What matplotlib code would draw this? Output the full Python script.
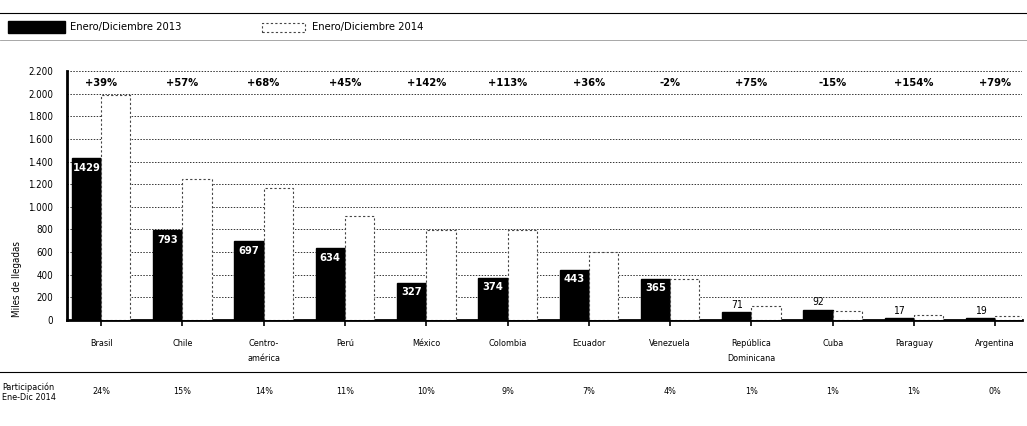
import matplotlib
matplotlib.use("Agg")
import matplotlib.pyplot as plt
from matplotlib.patches import Rectangle
from matplotlib.lines import Line2D

categories = ["Brasil", "Chile", "Centro-\namérica", "Perú", "México", "Colombia",
              "Ecuador", "Venezuela", "República\nDominicana", "Cuba", "Paraguay", "Argentina"]
values_2013 = [1429, 793, 697, 634, 327, 374, 443, 365, 71, 92, 17, 19]
values_2014 = [1986, 1245, 1171, 919, 791, 797, 602, 358, 124, 78, 43, 34]
variation = ["+39%", "+57%", "+68%", "+45%", "+142%", "+113%", "+36%", "-2%",
             "+75%", "-15%", "+154%", "+79%"]
share_2014 = ["24%", "15%", "14%", "11%", "10%", "9%", "7%", "4%", "1%", "1%", "1%", "0%"]
yticks = [0, 200, 400, 600, 800, 1000, 1200, 1400, 1600, 1800, 2000, 2200]
ytick_labels = ["0", "200", "400", "600", "800", "1.000", "1.200", "1.400", "1.600",
                "1.800", "2.000", "2.200"]

plt.rcParams['font.family'] = ['DejaVu Sans']
plt.rcParams['font.stretch'] = 'condensed'

fig = plt.figure(figsize=(10.27, 4.26), dpi=100)
ax = fig.add_axes([0.0652, 0.249, 0.930, 0.584])

x = list(range(len(categories)))
w = 0.36
x13 = [i - w / 2 for i in x]
x14 = [i + w / 2 for i in x]

ax.bar(x13, values_2013, width=w, color="black", edgecolor="black", zorder=3)
ax.bar(x14, values_2014, width=w, color="white", edgecolor="#444444",
       linestyle=(0, (2, 2)), linewidth=0.8, zorder=3)

for xi, v in zip(x13, values_2013):
    if v > 250:
        ax.text(xi, v - 40, str(v), ha="center", va="top", color="white",
                fontsize=8, fontweight="bold", zorder=4)
    else:
        ax.text(xi, v + 20, str(v), ha="center", va="bottom", color="black",
                fontsize=7.5, zorder=4)

for xi, t in zip(x, variation):
    ax.text(xi, 2095, t, ha="center", va="center", fontsize=8, fontweight="bold")

ax.set_xlim(-0.42, 11.33)
ax.set_ylim(0, 2200)
ax.set_yticks(yticks)
ax.set_yticklabels(ytick_labels, fontsize=7)
ax.set_xticks(x)
ax.set_xticklabels(categories, fontsize=6.5, linespacing=1.8)
ax.tick_params(axis="x", length=4, width=1.2, pad=10)
ax.tick_params(axis="y", length=0, pad=10)
ax.grid(axis="y", linestyle=(0, (1.5, 1.5)), color="#333333", linewidth=0.7, zorder=0)
for s in ["top", "right"]:
    ax.spines[s].set_visible(False)
ax.spines["left"].set_linewidth(2)
ax.spines["bottom"].set_linewidth(2)

fig.text(0.017, 0.345, "Miles de llegadas", rotation=90, ha="center", va="center", fontsize=7)

# Legend
fig.patches.append(Rectangle((8 / 1027, 1 - 33 / 426), 57 / 1027, 12 / 426,
                             transform=fig.transFigure, facecolor="black", edgecolor="black"))
fig.text(70 / 1027, 1 - 27 / 426, "Enero/Diciembre 2013", fontsize=8, va="center")
fig.patches.append(Rectangle((262 / 1027, 1 - 32 / 426), 43 / 1027, 9 / 426,
                             transform=fig.transFigure, facecolor="white", edgecolor="#444444",
                             linestyle=(0, (2, 2)), linewidth=0.8))
fig.text(312 / 1027, 1 - 27 / 426, "Enero/Diciembre 2014", fontsize=8, va="center")
fig.lines.append(Line2D([0.0, 1.0], [1 - 13 / 426, 1 - 13 / 426], transform=fig.transFigure,
                        color="black", linewidth=0.8))
fig.lines.append(Line2D([0.0, 1.0], [1 - 40 / 426, 1 - 40 / 426], transform=fig.transFigure,
                        color="#999999", linewidth=0.6))

# Participation row
fig.lines.append(Line2D([0.0, 1.0], [1 - 372 / 426, 1 - 372 / 426], transform=fig.transFigure,
                        color="black", linewidth=0.8))
fig.text(2 / 1027, 1 - 392 / 426, "Participación\nEne-Dic 2014", fontsize=6.5, va="center",
         linespacing=1.1)
for xi, s in zip(x, share_2014):
    xd, _ = ax.transData.transform((xi, 0))
    fig.text(xd / fig.bbox.width, 1 - 391 / 426, s, ha="center", va="center", fontsize=6.5)

fig.savefig("out.png", dpi=100)
